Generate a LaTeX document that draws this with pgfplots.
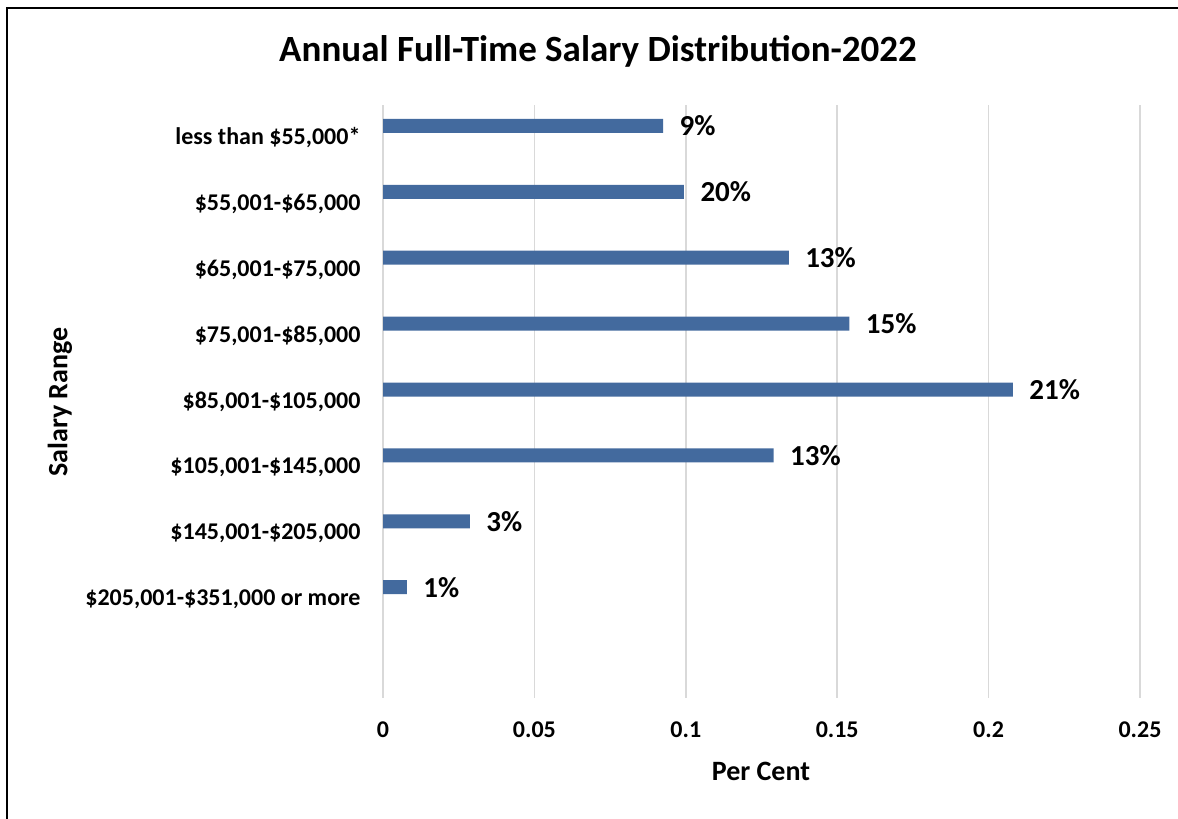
\documentclass[border=0pt]{standalone}
\usepackage{fontspec}
\setmainfont{Carlito}
\usepackage{pgfplots}
\pgfplotsset{compat=1.18}
\definecolor{barblue}{RGB}{67,106,158}
\definecolor{gridgray}{RGB}{217,217,217}
\begin{document}
\begin{tikzpicture}[x=1pt,y=1pt]
\useasboundingbox (0,0) rectangle (1178,819);
\draw[line width=2pt] (7,-5) -- (7,811) -- (1190,811);
\node[font=\fontsize{37}{40}\selectfont\bfseries, anchor=base] at (598,757) {Annual Full-Time Salary Distribution-2022};
\node[font=\fontsize{28}{30}\selectfont\bfseries, rotate=90] at (60,417) {Salary Range};
\node[font=\fontsize{28}{30}\selectfont\bfseries] at (761,48) {Per Cent};
\begin{axis}[
 at={(383pt,121pt)}, anchor=south west,
 scale only axis, width=757pt, height=593pt,
 xmin=0, xmax=0.25, ymin=-0.5, ymax=8.5,
 xbar, bar width=14pt, bar shift=12pt,
 axis line style={draw=none},
 major tick length=0pt,
 xtick={0,0.05,0.1,0.15,0.2,0.25},
 xticklabels={0,0.05,0.1,0.15,0.2,0.25},
 ytick={1,2,3,4,5,6,7,8},
 yticklabels={{\$205,001-\$351,000 or more},{\$145,001-\$205,000},{\$105,001-\$145,000},{\$85,001-\$105,000},{\$75,001-\$85,000},{\$65,001-\$75,000},{\$55,001-\$65,000},{less than \$55,000*}},
 xmajorgrids, grid style={gridgray, line width=1.5pt},
 ticklabel style={font=\fontsize{24}{26}\selectfont\bfseries},
 yticklabel style={font=\fontsize{24}{26}\selectfont\bfseries, xshift=-19pt},
 xticklabel style={yshift=-20pt},
 nodes near coords, point meta=explicit symbolic,
 every node near coord/.append style={font=\fontsize{29}{31}\selectfont\bfseries, anchor=west, xshift=13pt, black},
]
\addplot[fill=barblue, draw=none] coordinates {
(0.0925,8) [9\%]
(0.0994,7) [20\%]
(0.1340,6) [13\%]
(0.1540,5) [15\%]
(0.2080,4) [21\%]
(0.1290,3) [13\%]
(0.0287,2) [3\%]
(0.0079,1) [1\%]
};
\end{axis}
\end{tikzpicture}
\end{document}
